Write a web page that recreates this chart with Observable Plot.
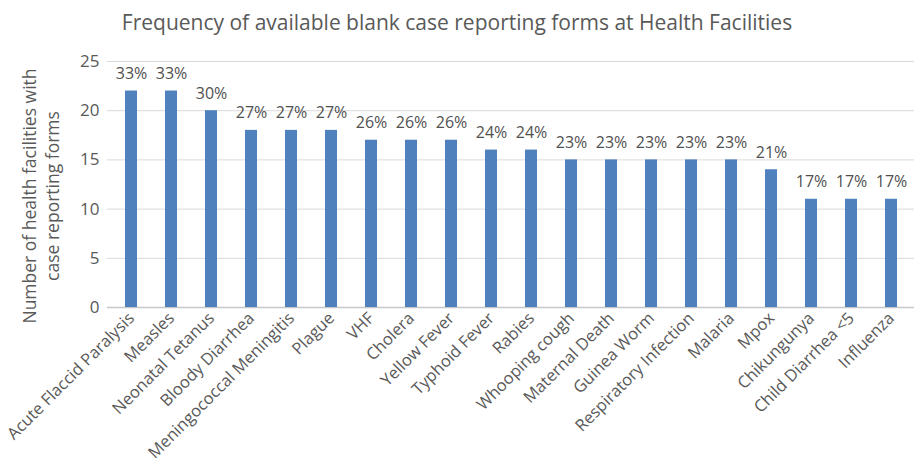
<!DOCTYPE html>
<html>
<head>
<meta charset="utf-8">
<script src="https://cdn.jsdelivr.net/npm/d3@7"></script>
<script src="https://cdn.jsdelivr.net/npm/@observablehq/plot@0.6"></script>
<style>
  html, body { margin: 0; padding: 0; background: #fff; }
  body { width: 914px; height: 467px; position: relative; overflow: hidden; font-family: "Open Sans", sans-serif; }
  #title { height: 44px; line-height: 44px; text-align: center; font-size: 21px; color: #595959; }
  #ylabel { position: absolute; left: 41px; top: 196px; width: 340px; transform: translate(-50%, -50%) rotate(-90deg); text-align: center; font-size: 17.5px; line-height: 23px; color: #595959; }
</style>
</head>
<body>
<div id="title">Frequency of available blank case reporting forms at Health Facilities</div>
<div id="ylabel">Number of health facilities with<br>case reporting forms</div>
<div id="chart"></div>
<script>
const categories = ["Acute Flaccid Paralysis","Measles","Neonatal Tetanus","Bloody Diarrhea","Meningococcal Meningitis","Plague","VHF","Cholera","Yellow Fever","Typhoid Fever","Rabies","Whooping cough","Maternal Death","Guinea Worm","Respiratory Infection","Malaria","Mpox","Chikungunya","Child Diarrhea <5","Influenza"];
const counts = [22,22,20,18,18,18,17,17,17,16,16,15,15,15,15,15,14,11,11,11];
const percents = ["33%","33%","30%","27%","27%","27%","26%","26%","26%","24%","24%","23%","23%","23%","23%","23%","21%","17%","17%","17%"];
const yTicks = [0,5,10,15,20,25];

const data = categories.map((c, i) => ({category: c, count: counts[i], pct: percents[i]}));

const chart = Plot.plot({
  width: 914,
  height: 423,
  marginTop: 17,
  marginBottom: 160,
  marginLeft: 107,
  marginRight: 0,
  style: {fontFamily: "Open Sans, sans-serif", color: "#595959", background: "#fff", overflow: "visible"},
  x: {domain: categories, paddingInner: 0.7, paddingOuter: 0.35, label: null},
  y: {domain: [0, 25], ticks: yTicks, label: null},
  marks: [
    Plot.gridY(yTicks.filter(d => d > 0), {stroke: "#d9d9d9", strokeOpacity: 1}),
    Plot.ruleY([0], {stroke: "#c8c8c8", strokeWidth: 1.5}),
    Plot.barY(data, {x: "category", y: "count", fill: "#4F81BD"}),
    Plot.text(data, {x: "category", y: "count", text: "pct", dy: -12, lineAnchor: "bottom", fontSize: 16, fill: "#505050"}),
    Plot.axisY({ticks: yTicks, tickSize: 0, tickPadding: 8, fontSize: 17, label: null, fill: "#595959"}),
    Plot.axisX({tickSize: 0, tickRotate: -45, tickPadding: 8, fontSize: 16.5, label: null, fill: "#595959"})
  ]
});
document.getElementById("chart").appendChild(chart);
</script>
</body>
</html>
